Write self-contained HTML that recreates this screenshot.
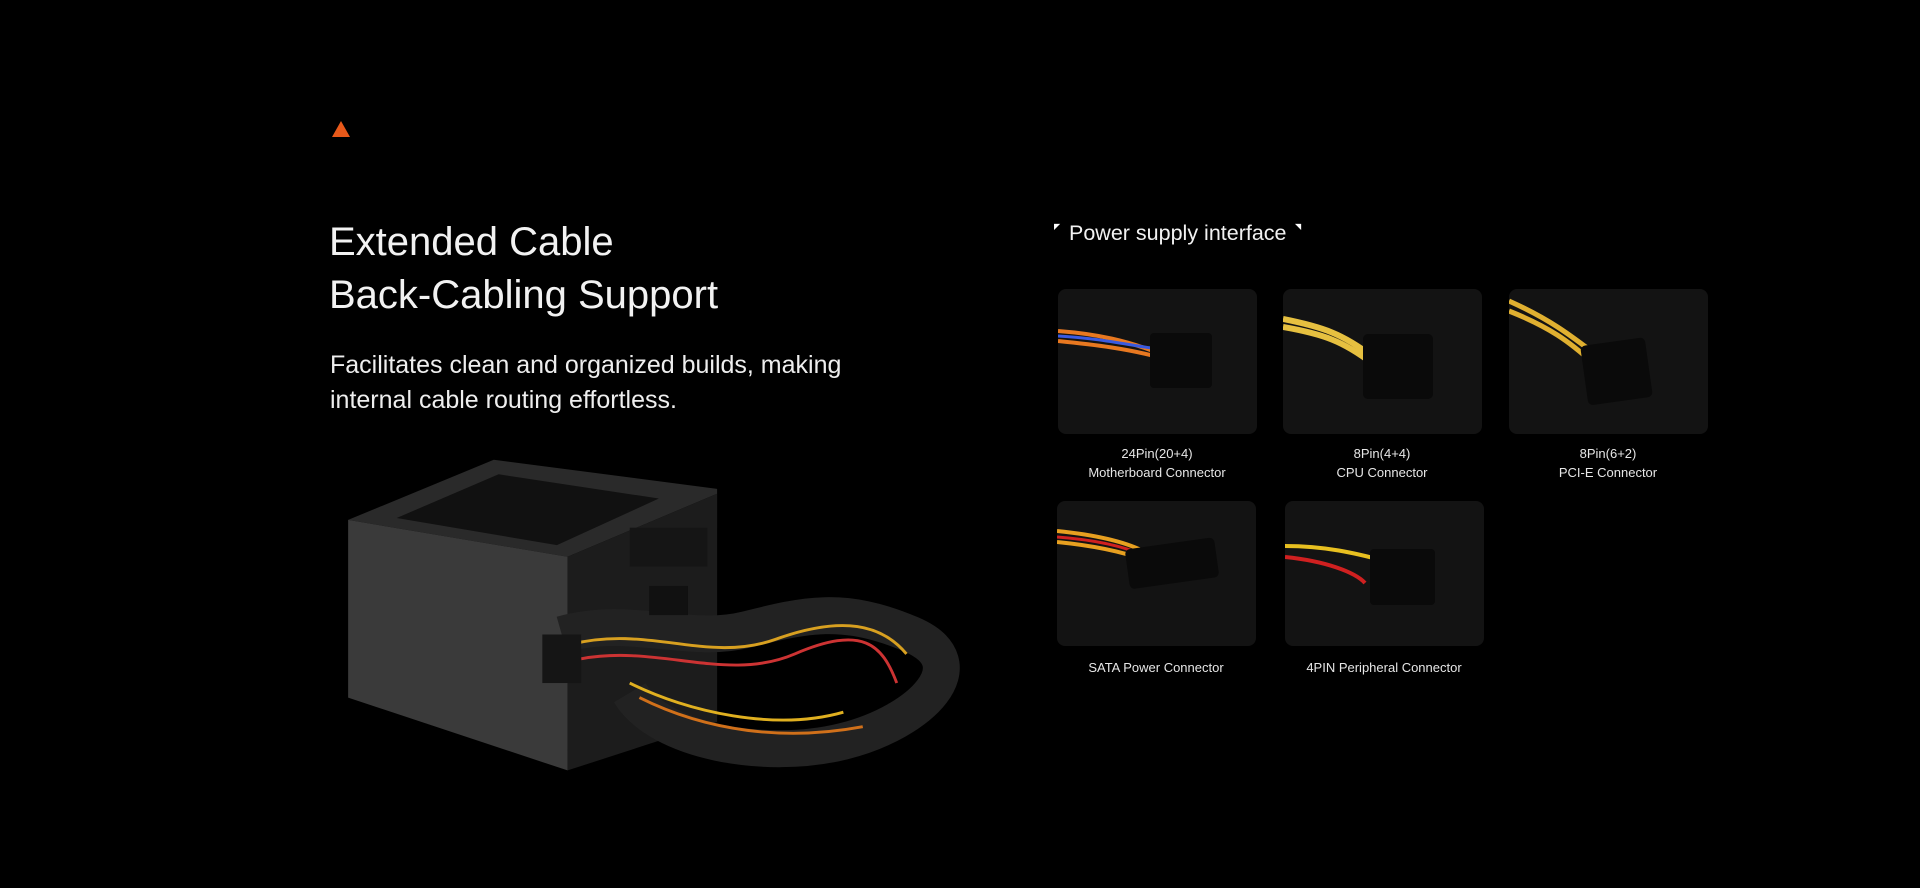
<!DOCTYPE html>
<html><head><meta charset="utf-8"><style>
body{margin:0;width:1920px;height:888px;background:#000;overflow:hidden;position:relative;font-family:"Liberation Sans",sans-serif;color:#fff}
.a{position:absolute}
.card{position:absolute;width:199px;height:145px;background:#131313;border-radius:8px;overflow:hidden}
.lbl{position:absolute;width:240px;text-align:center;font-size:13px;line-height:19px;color:#e6e6e6}
</style></head><body>
<div class="a" style="left:332px;top:121px;width:0;height:0;border-left:9.5px solid transparent;border-right:9.5px solid transparent;border-bottom:16px solid #e8591a"></div>
<div class="a" style="left:329px;top:216px;font-size:40px;line-height:53px;color:#f2f2f2">Extended Cable<br>Back-Cabling Support</div>
<div class="a" style="left:330px;top:348px;font-size:25px;line-height:35px;color:#eee">Facilitates clean and organized builds, making<br>internal cable routing effortless.</div>

<svg class="a" style="left:334px;top:450px" width="640" height="335" viewBox="0 0 650 345">
<polygon points="10,72 160,10 390,40 390,45 236,110" fill="#2a2a2a"/>
<polygon points="10,72 236,110 236,330 10,255" fill="#3a3a3a"/>
<polygon points="236,110 390,45 390,280 236,330" fill="#1c1c1c"/>
<polygon points="60,70 165,25 330,50 225,98" fill="#111"/>
<path d="M230 190 C300 170 360 200 420 185 S520 160 590 190 S600 280 520 300 S330 300 300 250" stroke="#222" stroke-width="38" fill="none"/>
<path d="M240 200 C320 180 380 220 450 195 S560 180 585 210" stroke="#d8a020" stroke-width="3" fill="none"/>
<path d="M250 215 C330 200 400 240 470 210 S560 200 575 240" stroke="#c33" stroke-width="3" fill="none"/>
<path d="M300 240 C360 270 450 290 520 270" stroke="#e0b020" stroke-width="3" fill="none"/>
<path d="M310 255 C380 290 460 300 540 285" stroke="#d0701a" stroke-width="3" fill="none"/>
<rect x="300" y="80" width="80" height="40" fill="#151515"/>
<rect x="320" y="140" width="40" height="30" fill="#111"/>
<rect x="210" y="190" width="40" height="50" fill="#151515"/>
</svg>

<div class="a" style="left:1054px;top:222px;font-size:8px">◤</div>
<div class="a" style="left:1069px;top:221px;font-size:21.5px;color:#f2f2f2">Power supply interface</div>
<div class="a" style="left:1295px;top:222px;font-size:8px">◥</div>

<div class="card" style="left:1058px;top:289px"><svg width="199" height="145"><path d="M0 42 C40 45 70 52 100 64 M0 52 C40 56 70 60 100 68" stroke="#e87820" stroke-width="4" fill="none"/><path d="M0 47 C40 49 70 56 100 60" stroke="#3a5ae0" stroke-width="3" fill="none"/><rect x="92" y="44" width="62" height="55" rx="4" fill="#0a0a0a"/></svg></div>
<div class="card" style="left:1283px;top:289px"><svg width="199" height="145"><path d="M0 30 C40 38 60 45 90 68 M0 38 C40 45 60 52 90 75" stroke="#e6c040" stroke-width="6" fill="none"/><rect x="80" y="45" width="70" height="65" rx="5" fill="#0a0a0a"/></svg></div>
<div class="card" style="left:1509px;top:289px"><svg width="199" height="145"><path d="M0 12 C40 30 60 45 90 68 M0 22 C40 38 60 52 85 75" stroke="#e0b030" stroke-width="5" fill="none"/><rect x="75" y="52" width="65" height="60" rx="5" fill="#0a0a0a" transform="rotate(-8 110 82)"/></svg></div>
<div class="card" style="left:1057px;top:501px"><svg width="199" height="145"><path d="M0 30 C40 34 70 41 90 52 M0 41 C40 45 70 52 90 60" stroke="#e8a020" stroke-width="4" fill="none"/><path d="M0 36 C40 39 70 46 90 56" stroke="#d02020" stroke-width="3" fill="none"/><rect x="70" y="42" width="90" height="40" rx="5" fill="#0a0a0a" transform="rotate(-8 117 62)"/></svg></div>
<div class="card" style="left:1285px;top:501px"><svg width="199" height="145"><path d="M0 45 C40 45 70 52 100 60" stroke="#e8c020" stroke-width="4" fill="none"/><path d="M0 56 C40 60 70 71 80 82" stroke="#d02020" stroke-width="4" fill="none"/><rect x="85" y="48" width="65" height="56" rx="4" fill="#0a0a0a"/></svg></div>

<div class="lbl" style="left:1037px;top:444px">24Pin(20+4)<br>Motherboard Connector</div>
<div class="lbl" style="left:1262px;top:444px">8Pin(4+4)<br>CPU Connector</div>
<div class="lbl" style="left:1488px;top:444px">8Pin(6+2)<br>PCI-E Connector</div>
<div class="lbl" style="left:1036px;top:658px">SATA Power Connector</div>
<div class="lbl" style="left:1264px;top:658px">4PIN Peripheral Connector</div>
</body></html>
